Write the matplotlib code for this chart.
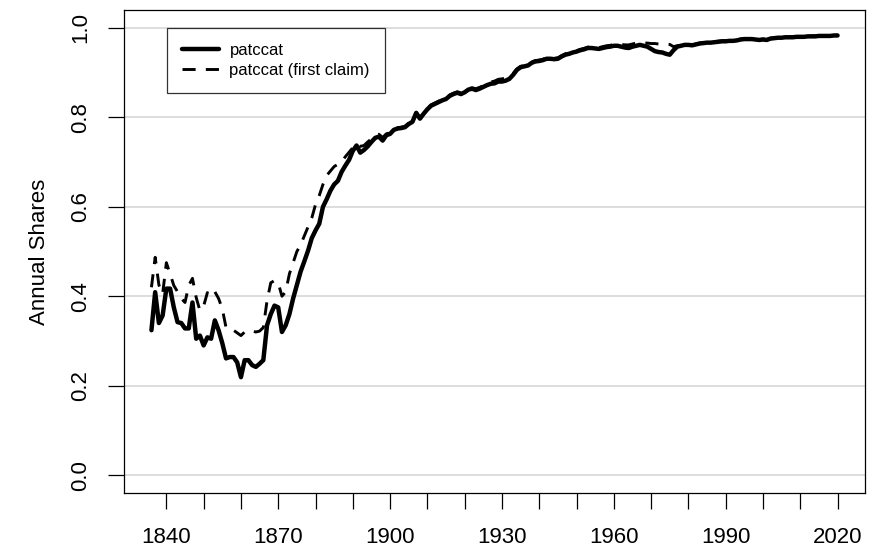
import numpy as np
import matplotlib
matplotlib.use("Agg")
import matplotlib.pyplot as plt

plt.rcParams['font.family'] = ['Liberation Sans', 'DejaVu Sans']

years = np.arange(1836, 2021)

# patccat, annual share (solid line)
patccat = [
    0.324, 0.409, 0.340, 0.357, 0.417, 0.417, 0.375, 0.342, 0.340, 0.328,  # 1836-1845
    0.328, 0.386, 0.305, 0.312, 0.290, 0.308, 0.305, 0.346, 0.324, 0.295,  # 1846-1855
    0.261, 0.264, 0.264, 0.252, 0.219, 0.257, 0.257, 0.246, 0.242, 0.249,  # 1856-1865
    0.257, 0.335, 0.360, 0.379, 0.375, 0.320, 0.335, 0.360, 0.395, 0.425,  # 1866-1875
    0.455, 0.478, 0.502, 0.530, 0.547, 0.562, 0.600, 0.617, 0.636, 0.650,  # 1876-1885
    0.658, 0.678, 0.692, 0.705, 0.725, 0.737, 0.721, 0.727, 0.735, 0.745,  # 1886-1895
    0.754, 0.757, 0.748, 0.760, 0.763, 0.772, 0.775, 0.776, 0.778, 0.785,  # 1896-1905
    0.790, 0.810, 0.797, 0.808, 0.818, 0.826, 0.830, 0.834, 0.838, 0.841,  # 1906-1915
    0.848, 0.852, 0.855, 0.852, 0.856, 0.862, 0.864, 0.861, 0.864, 0.868,  # 1916-1925
    0.872, 0.875, 0.876, 0.880, 0.880, 0.882, 0.886, 0.895, 0.906, 0.912,  # 1926-1935
    0.914, 0.916, 0.922, 0.925, 0.926, 0.928, 0.931, 0.931, 0.930, 0.931,  # 1936-1945
    0.936, 0.940, 0.942, 0.945, 0.947, 0.950, 0.952, 0.955, 0.955, 0.954,  # 1946-1955
    0.953, 0.955, 0.957, 0.958, 0.960, 0.960, 0.958, 0.956, 0.955, 0.958,  # 1956-1965
    0.960, 0.962, 0.960, 0.958, 0.953, 0.948, 0.946, 0.945, 0.942, 0.940,  # 1966-1975
    0.950, 0.958, 0.960, 0.962, 0.962, 0.961, 0.963, 0.965, 0.966, 0.967,  # 1976-1985
    0.967, 0.968, 0.969, 0.970, 0.970, 0.971, 0.971, 0.972, 0.974, 0.975,  # 1986-1995
    0.975, 0.975, 0.974, 0.973, 0.974, 0.973, 0.976, 0.977, 0.978, 0.978,  # 1996-2005
    0.979, 0.979, 0.979, 0.980, 0.980, 0.980, 0.981, 0.981, 0.981, 0.982,  # 2006-2015
    0.982, 0.982, 0.982, 0.983, 0.983,                                     # 2016-2020
]

# patccat (first claim), dashed line
patccat_first = [
    0.420, 0.487, 0.425, 0.405, 0.475, 0.450, 0.424, 0.410, 0.395, 0.386,  # 1836-1845
    0.424, 0.440, 0.397, 0.368, 0.378, 0.408, 0.400, 0.410, 0.395, 0.372,  # 1846-1855
    0.330, 0.324, 0.324, 0.318, 0.312, 0.320, 0.324, 0.322, 0.320, 0.322,  # 1856-1865
    0.330, 0.390, 0.430, 0.435, 0.430, 0.400, 0.410, 0.450, 0.475, 0.500,  # 1866-1875
    0.515, 0.535, 0.555, 0.575, 0.605, 0.625, 0.650, 0.670, 0.680, 0.690,  # 1876-1885
    0.695, 0.700, 0.712, 0.722, 0.732, 0.742, 0.735, 0.737, 0.745, 0.752,  # 1886-1895
    0.760, 0.762, 0.755, 0.763, 0.766, 0.774, 0.777, 0.778, 0.780, 0.787,  # 1896-1905
    0.792, 0.811, 0.799, 0.810, 0.820, 0.828, 0.832, 0.836, 0.840, 0.843,  # 1906-1915
    0.850, 0.854, 0.857, 0.855, 0.858, 0.864, 0.866, 0.864, 0.867, 0.871,  # 1916-1925
    0.875, 0.879, 0.881, 0.885, 0.886, 0.888, 0.891, 0.898, 0.908, 0.914,  # 1926-1935
    0.916, 0.918, 0.924, 0.927, 0.928, 0.930, 0.933, 0.933, 0.932, 0.933,  # 1936-1945
    0.938, 0.942, 0.944, 0.947, 0.949, 0.952, 0.954, 0.957, 0.957, 0.957,  # 1946-1955
    0.956, 0.958, 0.960, 0.961, 0.963, 0.964, 0.963, 0.962, 0.962, 0.964,  # 1956-1965
    0.966, 0.967, 0.966, 0.966, 0.965, 0.965, 0.964, 0.964, 0.964, 0.963,  # 1966-1975
    0.958, 0.960, 0.961, 0.963, 0.963, 0.962, 0.964, 0.966, 0.967, 0.968,  # 1976-1985
    0.968, 0.969, 0.970, 0.971, 0.971, 0.972, 0.972, 0.973, 0.975, 0.976,  # 1986-1995
    0.976, 0.976, 0.975, 0.974, 0.975, 0.974, 0.977, 0.978, 0.978, 0.979,  # 1996-2005
    0.979, 0.980, 0.980, 0.980, 0.981, 0.981, 0.981, 0.982, 0.982, 0.982,  # 2006-2015
    0.982, 0.983, 0.983, 0.983, 0.984,                                     # 2016-2020
]

x_ticks = np.arange(1840, 2021, 10)
y_ticks = [0.0, 0.2, 0.4, 0.6, 0.8, 1.0]

fig = plt.figure(figsize=(8.7, 5.5), dpi=100)
ax = fig.add_axes([124/870, 1 - 493/550, (865 - 124)/870, (493 - 10)/550])

for yv in y_ticks:
    ax.axhline(yv, color='#d3d3d3', lw=1.1, zorder=1)

ax.plot(years, patccat_first, color='black', lw=2.1, dashes=(4.5, 3.5),
        label='patccat (first claim)', zorder=3)
ax.plot(years, patccat, color='black', lw=3.2, solid_capstyle='round',
        solid_joinstyle='round', label='patccat', zorder=4)

ax.set_xlim(1828.64, 2027.36)
ax.set_ylim(-0.04, 1.04)

ax.set_xticks(x_ticks)
ax.set_xticklabels([str(t) if (t - 1840) % 30 == 0 else '' for t in x_ticks])
ax.set_yticks(y_ticks)
ax.set_yticklabels(['0.0', '0.2', '0.4', '0.6', '0.8', '1.0'], rotation=90, va='center')
ax.tick_params(axis='both', direction='out', length=11.5, width=0.9, labelsize=16, color='black')
ax.tick_params(axis='x', pad=13)
ax.tick_params(axis='y', pad=12)
for s in ax.spines.values():
    s.set_linewidth(0.9)

ax.set_ylabel('Annual Shares', fontsize=16, labelpad=15)

handles, labels = ax.get_legend_handles_labels()
leg = ax.legend(handles[::-1], labels[::-1], loc='upper left',
                bbox_to_anchor=((167 - 124)/741, (493 - 28)/483), borderaxespad=0,
                fontsize=12, frameon=True, fancybox=False, edgecolor='black',
                handlelength=2.2, handletextpad=0.65, borderpad=0.9, labelspacing=0.32)
leg.get_frame().set_linewidth(0.9)

fig.savefig('out.png', dpi=100)
